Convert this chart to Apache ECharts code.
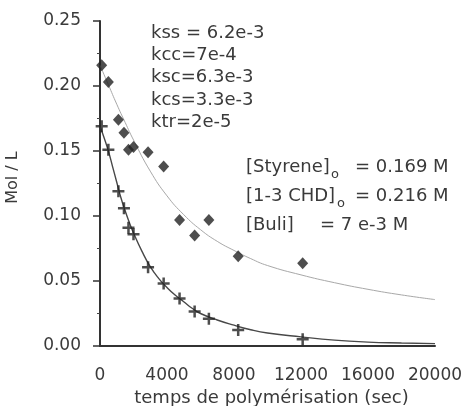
<!DOCTYPE html>
<html>
<head>
<meta charset="utf-8">
<script src="https://cdn.jsdelivr.net/npm/echarts@6/dist/echarts.min.js"></script>
<style>
html,body{margin:0;padding:0;background:#fff;}
#chart{width:467px;height:406px;}
</style>
</head>
<body>
<div id="chart"></div>
<script>
// Sample times (sec)
const sampleTimes = [100, 500, 1100, 1430, 1700, 2000, 2870, 3800, 4750, 5650, 6500, 8250, 12100];
// [Styrene] measured (crosses)
const styreneValues = [0.169, 0.151, 0.119, 0.106, 0.091, 0.086, 0.0605, 0.048, 0.0365, 0.0265, 0.021, 0.0123, 0.0052];
// [1-3 CHD] measured (diamonds)
const chdValues = [0.216, 0.203, 0.174, 0.164, 0.151, 0.153, 0.149, 0.138, 0.097, 0.085, 0.097, 0.069, 0.0636];

// Fitted curves
const styreneFitTimes = [0, 250, 500, 750, 1000, 1250, 1500, 1750, 2000, 2500, 3000, 3500, 4000, 4500, 5000, 5500, 6000, 7000, 8000, 9000, 10000, 12000, 14000, 16000, 18000, 20000];
const styreneFitValues = [0.169, 0.160, 0.150, 0.138, 0.126, 0.114, 0.104, 0.095, 0.087, 0.073, 0.061, 0.052, 0.045, 0.039, 0.034, 0.029, 0.025, 0.020, 0.016, 0.0125, 0.010, 0.007, 0.0045, 0.003, 0.0023, 0.0018];
const chdFitTimes = [0, 500, 1000, 1500, 2000, 3000, 4000, 5000, 6000, 7000, 8000, 9000, 10000, 12000, 14000, 16000, 18000, 20000];
const chdFitValues = [0.216, 0.201, 0.186, 0.172, 0.1585, 0.1345, 0.1155, 0.101, 0.0895, 0.0805, 0.0735, 0.0672, 0.0619, 0.0547, 0.0487, 0.0436, 0.0393, 0.0357];

const xTicks = [0, 4000, 8000, 12000, 16000, 20000];

const rateLines = ['kss = 6.2e-3', 'kcc=7e-4', 'ksc=6.3e-3', 'kcs=3.3e-3', 'ktr=2e-5'];
const concLabels = ['[Styrene]', '[1-3 CHD]', '[Buli]'];
const concSubs = ['o', 'o', ''];
const concValues = ['= 0.169 M', '= 0.216 M', '= 7 e-3 M'];

const FONT = '"DejaVu Sans", sans-serif';
const TXT = '#3a3a3a';

function zip(a, b) { return a.map((v, i) => [v, b[i]]); }

const chart = echarts.init(document.getElementById('chart'), null, {renderer: 'canvas'});

const graphic = [];
rateLines.forEach((t, i) => {
  graphic.push({type: 'text', x: 151, y: 33 + i * 22.4,
    style: {text: t, font: '18px ' + FONT, fill: TXT, verticalAlign: 'middle', align: 'left'}});
});
const concY = [167, 196, 225];
concLabels.forEach((t, i) => {
  graphic.push({type: 'text', x: 246, y: concY[i],
    style: {text: t, font: '18px ' + FONT, fill: TXT, verticalAlign: 'middle', align: 'left'}});
  if (concSubs[i]) {
    graphic.push({type: 'text', x: i === 0 ? 331 : 337, y: concY[i] + 8,
      style: {text: concSubs[i], font: '13px ' + FONT, fill: TXT, verticalAlign: 'middle', align: 'left'}});
  }
  graphic.push({type: 'text', x: i === 2 ? 320 : 355, y: concY[i],
    style: {text: concValues[i], font: '18px ' + FONT, fill: TXT, verticalAlign: 'middle', align: 'left'}});
});

const plusPath = 'path://M4.75,0H7.25V4.75H12V7.25H7.25V12H4.75V7.25H0V4.75H4.75Z';

chart.setOption({
  animation: false,
  backgroundColor: '#fff',
  grid: {left: 100, top: 21, width: 335, height: 325, containLabel: false, outerBoundsMode: 'none'},
  xAxis: {
    type: 'value', min: 0, max: 20000, interval: 4000,
    name: 'temps de polymérisation (sec)', nameLocation: 'middle', nameGap: 37,
    nameTextStyle: {fontFamily: FONT, fontSize: 18, color: TXT, padding: [0, 0, 0, 8]},
    axisLine: {show: true, onZero: false, lineStyle: {color: '#333', width: 2}},
    axisTick: {show: false},
    splitLine: {show: false},
    axisLabel: {fontFamily: FONT, fontSize: 17, color: TXT, margin: 21,
      customValues: xTicks, formatter: v => String(v)}
  },
  yAxis: {
    type: 'value', min: 0, max: 0.25, interval: 0.05,
    name: 'Mol / L', nameLocation: 'middle', nameGap: 79, nameRotate: 90,
    nameTextStyle: {fontFamily: FONT, fontSize: 16, color: TXT, padding: [0, 0, 0, 12]},
    axisLine: {show: true, onZero: false, lineStyle: {color: '#333', width: 2}},
    axisTick: {show: true, length: 7, lineStyle: {color: '#333', width: 1.5}},
    minorTick: {show: true, splitNumber: 2, length: 3, lineStyle: {color: '#444', width: 1}},
    splitLine: {show: false},
    axisLabel: {fontFamily: FONT, fontSize: 17, color: TXT, margin: 19,
      formatter: v => v.toFixed(2)}
  },
  graphic: graphic,
  series: [
    {type: 'line', data: zip(chdFitTimes, chdFitValues), smooth: 0.5, showSymbol: false,
      lineStyle: {color: '#a8a8a8', width: 1}, z: 2},
    {type: 'line', data: zip(styreneFitTimes, styreneFitValues), smooth: 0.5, showSymbol: false,
      lineStyle: {color: '#484848', width: 1.4}, z: 2},
    {type: 'scatter', data: zip(sampleTimes, chdValues), symbol: 'diamond', symbolSize: [11, 12],
      itemStyle: {color: '#222'}, z: 3},
    {type: 'scatter', data: zip(sampleTimes, styreneValues), symbol: plusPath, symbolSize: 12,
      itemStyle: {color: '#222'}, z: 3}
  ]
});
</script>
</body>
</html>
